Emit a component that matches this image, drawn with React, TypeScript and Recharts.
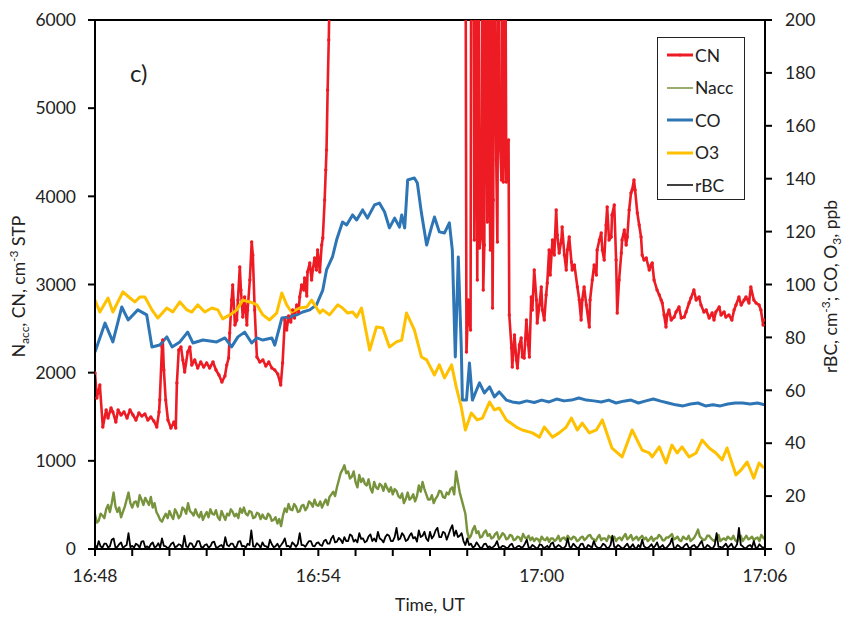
import React from 'react';
import { LineChart, Line, XAxis, YAxis, ReferenceLine } from 'recharts';

const FONT = "Lato, 'Open Sans', sans-serif";
const TEXT = '#222';

// X axis: minutes after 16:48 UT
const xTickMinutes = [0, 1, 2, 3, 4, 5, 6, 7, 8, 9, 10, 11, 12, 13, 14, 15, 16, 17, 18];
const xTickLabels = ['16:48', '', '', '', '', '', '16:54', '', '', '', '', '', '17:00', '', '', '', '', '', '17:06'];
const leftTicks = [0, 1000, 2000, 3000, 4000, 5000, 6000];
const rightTicks = [0, 20, 40, 60, 80, 100, 120, 140, 160, 180, 200];

// CN, cm-3 STP (left axis): [minute, value]
const cnSeries: [number, number][] = [
  [0, 1996], [0.05, 1713], [0.13, 1860], [0.21, 1384], [0.3, 1577], [0.35, 1486], [0.43, 1599], [0.48, 1554],
  [0.56, 1440], [0.62, 1577], [0.7, 1520], [0.78, 1554], [0.86, 1486], [0.94, 1577], [1.02, 1520], [1.1, 1463],
  [1.18, 1542], [1.26, 1508], [1.34, 1531], [1.42, 1463], [1.5, 1497], [1.58, 1452], [1.66, 1384], [1.72, 1554],
  [1.74, 1690], [1.8, 2291], [1.82, 2370], [1.85, 2030], [1.9, 1690], [1.96, 1463], [2.04, 1372], [2.12, 1440],
  [2.17, 1372], [2.2, 1883], [2.25, 2257], [2.31, 2291], [2.36, 2144], [2.41, 2008], [2.49, 2234], [2.55, 2291],
  [2.6, 2087], [2.68, 2144], [2.76, 2053], [2.84, 2121], [2.92, 2064], [3.0, 2110], [3.08, 2053], [3.17, 2121],
  [3.25, 2030], [3.33, 1974], [3.41, 1894], [3.49, 1962], [3.54, 2087], [3.59, 2166], [3.62, 2450], [3.67, 2824],
  [3.7, 2994], [3.76, 2541], [3.81, 2597], [3.84, 2824], [3.89, 3198], [3.92, 2938], [3.97, 2631], [4.02, 2858],
  [4.08, 2541], [4.1, 2711], [4.16, 3051], [4.21, 3482], [4.24, 3335], [4.29, 2711], [4.35, 2178], [4.43, 2121],
  [4.51, 2144], [4.59, 2076], [4.67, 2121], [4.75, 2053], [4.83, 2030], [4.91, 1985], [4.99, 1860], [5.04, 2110],
  [5.1, 2597], [5.15, 2484], [5.2, 2643], [5.26, 2575], [5.31, 2711], [5.36, 2620], [5.42, 2767], [5.47, 2688],
  [5.5, 2858], [5.55, 2994], [5.61, 2938], [5.63, 3074], [5.69, 2870], [5.71, 3142], [5.77, 3244], [5.82, 3051],
  [5.85, 3164], [5.9, 3300], [5.95, 3164], [5.98, 3391], [6.04, 3142], [6.09, 3448], [6.12, 3527], [6.17, 3958],
  [6.2, 4299], [6.22, 4525], [6.25, 5206], [6.28, 5773], [6.3, 6227], [6.35, 8000], [9.9, 8000],
  [9.95, 8000], [9.98, 2234], [10.03, 2824], [10.06, 2597], [10.09, 2484], [10.11, 8000], [10.17, 8000],
  [10.19, 3505], [10.22, 8000], [10.27, 3051], [10.3, 7000], [10.33, 3414], [10.38, 3595], [10.41, 7500],
  [10.43, 2938], [10.46, 3448], [10.49, 8000], [10.54, 3709], [10.57, 7000], [10.6, 4185], [10.62, 3391],
  [10.65, 6500], [10.68, 2733], [10.7, 3958], [10.73, 8000], [10.78, 4412], [10.81, 3482], [10.84, 7000],
  [10.86, 4730], [10.89, 4525], [10.92, 4185], [10.94, 8000], [10.97, 4163], [11.0, 4752], [11.02, 7500],
  [11.05, 4163], [11.08, 4435], [11.11, 4639], [11.13, 2654], [11.19, 2280],
  [11.21, 2064], [11.27, 2427], [11.32, 2144], [11.35, 2053], [11.4, 2314], [11.45, 2393], [11.48, 2178],
  [11.53, 2166], [11.59, 2597], [11.64, 2314], [11.67, 2178], [11.72, 2858], [11.75, 2711], [11.8, 3164],
  [11.86, 2824], [11.88, 2563], [11.94, 2767], [11.99, 2972], [12.02, 2711], [12.07, 2597], [12.12, 2881],
  [12.15, 3017], [12.2, 3391], [12.23, 3108], [12.29, 3505], [12.34, 3335], [12.39, 3845], [12.42, 3561],
  [12.47, 3357], [12.53, 3505], [12.55, 3652], [12.61, 3335], [12.66, 3164], [12.69, 3391], [12.74, 3539],
  [12.8, 3255], [12.82, 3164], [12.88, 3221], [12.96, 2972], [13.01, 2824], [13.06, 2597], [13.09, 2824],
  [13.14, 2972], [13.2, 2767], [13.28, 2518], [13.3, 2824], [13.36, 3051], [13.41, 3221], [13.47, 3108],
  [13.49, 3391], [13.55, 3505], [13.6, 3584], [13.63, 3391], [13.68, 3278], [13.73, 3675], [13.76, 3879],
  [13.81, 3505], [13.87, 3539], [13.89, 3788], [13.95, 3902], [14.0, 3278], [14.03, 2677], [14.08, 3051],
  [14.14, 3357], [14.16, 3505], [14.22, 3618], [14.27, 3448], [14.3, 3539], [14.35, 3845], [14.4, 4038],
  [14.43, 4072], [14.48, 4185], [14.51, 4072], [14.57, 3811], [14.62, 3675], [14.67, 3539], [14.7, 3335],
  [14.75, 3278], [14.81, 3300], [14.89, 3164], [14.94, 3221], [14.97, 3244], [15.02, 3051], [15.1, 2938],
  [15.16, 2881], [15.21, 2824], [15.24, 2790], [15.29, 2654], [15.34, 2518], [15.37, 2654], [15.42, 2711],
  [15.48, 2597], [15.56, 2631], [15.61, 2688], [15.69, 2745], [15.75, 2620], [15.83, 2631], [15.88, 2688],
  [15.96, 2790], [16.01, 2847], [16.09, 2938], [16.15, 2824], [16.23, 2858], [16.28, 2767], [16.36, 2688],
  [16.42, 2711], [16.5, 2620], [16.58, 2677], [16.63, 2597], [16.68, 2688], [16.77, 2745], [16.82, 2654],
  [16.9, 2688], [16.95, 2631], [17.03, 2654], [17.11, 2597], [17.17, 2711], [17.22, 2767], [17.3, 2858],
  [17.36, 2767], [17.44, 2824], [17.49, 2858], [17.57, 2790], [17.62, 2972], [17.7, 2824], [17.76, 2790],
  [17.84, 2767], [17.89, 2711], [17.95, 2541], [17.97, 2597],
];

// CO, ppb (right axis): [minute, value]
const coSeries: [number, number][] = [
  [0, 74.5], [0.27, 85.4], [0.48, 78.3], [0.72, 91.5], [0.89, 86.6], [1.15, 90.4], [1.39, 88.5], [1.53, 76.4],
  [1.74, 77.1], [1.93, 80.2], [2.07, 76.4], [2.28, 78.3], [2.49, 82.0], [2.63, 77.9], [2.9, 79.0], [3.27, 78.3],
  [3.49, 79.8], [3.67, 76.4], [3.84, 80.2], [4.02, 82.0], [4.21, 77.9], [4.35, 79.8], [4.51, 79.0], [4.75, 79.8],
  [4.83, 77.1], [5.02, 87.3], [5.23, 87.7], [5.42, 88.5], [5.58, 89.6], [5.77, 90.4], [5.95, 92.3], [6.12, 97.9],
  [6.22, 105.5], [6.38, 110.4], [6.49, 116.8], [6.65, 123.6], [6.76, 122.5], [6.92, 126.3], [7.03, 124.4],
  [7.19, 128.2], [7.32, 125.1], [7.51, 130.1], [7.64, 130.8], [7.78, 127.4], [7.91, 121.4], [8.05, 125.1],
  [8.18, 121.7], [8.24, 126.3], [8.32, 121.4], [8.4, 139.5], [8.58, 140.3], [8.66, 138.4], [8.77, 127.0],
  [8.91, 114.9], [9.04, 121.7], [9.12, 125.5], [9.25, 119.9], [9.39, 119.5], [9.52, 123.3], [9.6, 113.0],
  [9.68, 72.6], [9.76, 110.4], [9.84, 76.4], [9.87, 56.3], [9.98, 56.3], [10.06, 70.3], [10.14, 56.3],
  [10.25, 60.1], [10.33, 62.8], [10.46, 59.0], [10.6, 61.3], [10.73, 57.5], [10.86, 59.4], [11.05, 56.3],
  [11.21, 55.6], [11.4, 55.2], [11.6, 56.0], [11.8, 55.4], [12.0, 56.3], [12.2, 55.6], [12.4, 56.7],
  [12.6, 56.0], [12.8, 56.3], [13.0, 57.1], [13.2, 56.3], [13.4, 56.0], [13.6, 55.6], [13.8, 56.3],
  [14.0, 55.2], [14.2, 55.9], [14.4, 56.3], [14.6, 55.2], [14.8, 56.0], [15.0, 56.7], [15.2, 55.9],
  [15.4, 55.2], [15.6, 54.5], [15.8, 54.1], [16.0, 54.8], [16.2, 55.2], [16.4, 54.1], [16.6, 54.5],
  [16.8, 54.1], [17.0, 54.8], [17.2, 55.2], [17.4, 55.2], [17.6, 54.8], [17.8, 55.2], [18, 54.5],
];

// O3, ppb (right axis): [minute, value]
const o3Series: [number, number][] = [
  [0, 94.1], [0.13, 89.6], [0.35, 94.9], [0.48, 89.6], [0.75, 97.2], [0.94, 94.9], [1.07, 93.4], [1.21, 95.3],
  [1.34, 95.3], [1.53, 90.4], [1.69, 87.3], [1.93, 91.1], [2.09, 89.6], [2.28, 93.4], [2.47, 90.4], [2.6, 89.6],
  [2.76, 92.3], [2.95, 89.6], [3.14, 91.1], [3.3, 90.4], [3.43, 87.0], [3.62, 88.5], [3.81, 90.4], [3.97, 94.1],
  [4.16, 93.4], [4.35, 92.3], [4.51, 88.5], [4.69, 86.6], [4.88, 89.2], [5.02, 96.8], [5.15, 92.3], [5.28, 89.6],
  [5.5, 91.1], [5.69, 91.5], [5.82, 94.1], [6.04, 89.2], [6.12, 90.4], [6.3, 88.5], [6.52, 92.3], [6.65, 91.1],
  [6.79, 89.2], [6.92, 89.6], [7.03, 87.7], [7.16, 91.1], [7.38, 75.2], [7.56, 83.9], [7.73, 83.6], [7.91, 76.4],
  [8.1, 78.3], [8.24, 79.0], [8.37, 89.2], [8.58, 82.8], [8.77, 72.6], [8.91, 71.5], [9.12, 65.8], [9.25, 69.6],
  [9.39, 64.7], [9.58, 69.6], [9.71, 60.9], [9.84, 53.7], [9.95, 45.0], [10.11, 51.4], [10.27, 48.8],
  [10.41, 49.5], [10.6, 55.6], [10.73, 52.6], [10.86, 53.3], [11.05, 48.8], [11.32, 46.1], [11.48, 45.0],
  [11.75, 43.9], [11.94, 42.3], [12.07, 46.1], [12.29, 42.3], [12.47, 43.9], [12.66, 46.1], [12.8, 49.5],
  [12.96, 45.0], [13.09, 47.6], [13.28, 43.9], [13.47, 45.0], [13.63, 48.8], [13.89, 38.1], [14.16, 34.8],
  [14.43, 45.0], [14.7, 37.4], [14.89, 36.3], [14.97, 34.8], [15.16, 38.6], [15.34, 32.5], [15.5, 39.3],
  [15.64, 36.3], [15.77, 38.6], [15.96, 34.8], [16.15, 36.3], [16.31, 41.2], [16.5, 38.2], [16.68, 36.3],
  [16.85, 33.7], [16.98, 38.2], [17.22, 28.0], [17.36, 29.9], [17.52, 32.9], [17.7, 26.8], [17.84, 32.5],
  [17.97, 30.6],
];

// Nacc (left axis) and rBC (right axis): one value every 0.05 minute from 16:48 (one row = 1 minute)
const SAMPLE_STEP_MIN = 0.05;
const naccValues = [
  390, 300, 320, 400, 380, 350, 450, 500, 420, 520, 640, 480, 420, 470, 360, 420, 480, 560, 640, 520,
  470, 530, 540, 480, 610, 560, 500, 580, 540, 500, 590, 470, 520, 420, 380, 330, 310, 360, 400, 350,
  430, 380, 340, 450, 410, 350, 380, 470, 450, 400, 520, 430, 410, 380, 450, 390, 360, 420, 330, 380,
  420, 360, 450, 400, 390, 440, 360, 330, 430, 380, 330, 400, 380, 450, 420, 370, 400, 350, 460, 410,
  470, 400, 380, 430, 420, 350, 360, 410, 400, 340, 390, 350, 340, 400, 380, 320, 330, 360, 290, 340,
  260, 380, 460, 420, 510, 450, 440, 510, 480, 420, 430, 490, 500, 440, 470, 540, 520, 480, 560, 500,
  490, 540, 470, 520, 560, 500, 590, 620, 650, 600, 700, 780, 860, 900, 950, 860, 880, 800, 820, 880,
  760, 700, 840, 760, 800, 740, 720, 790, 690, 640, 760, 700, 680, 740, 720, 660, 740, 690, 650, 700,
  620, 680, 660, 600, 580, 630, 520, 570, 640, 560, 580, 620, 540, 600, 720, 650, 760, 680, 620, 560,
  560, 610, 520, 570, 600, 660, 650, 590, 580, 640, 620, 680, 700, 620, 880, 760, 640, 560, 480, 400,
  200, 120, 150, 220, 260, 180, 200, 130, 140, 190, 210, 150, 170, 120, 130, 170, 190, 110, 140, 180,
  160, 110, 120, 160, 150, 100, 110, 140, 130, 90, 170, 130, 120, 150, 100, 130, 90, 120, 110, 80,
  140, 110, 100, 130, 80, 120, 120, 90, 110, 150, 90, 120, 130, 100, 150, 120, 110, 140, 130, 90,
  100, 130, 140, 100, 120, 150, 160, 120, 110, 90, 130, 160, 100, 120, 120, 90, 150, 130, 110, 140,
  90, 120, 130, 100, 140, 170, 110, 130, 160, 100, 120, 140, 100, 130, 150, 110, 130, 90, 110, 140,
  90, 120, 120, 160, 140, 100, 100, 130, 130, 150, 170, 110, 120, 140, 100, 90, 140, 120, 110, 150,
  90, 110, 130, 170, 220, 140, 120, 100, 110, 150, 150, 120, 100, 90, 130, 160, 90, 110, 120, 100,
  140, 120, 110, 150, 100, 80, 130, 150, 90, 120, 150, 110, 120, 140, 100, 120, 130, 90, 160, 130,
  110,
];
const rbcValues = [
  1.5, 0.4, 3, 1, 0.5, 2, 2, 0.6, 1, 3.5, 4, 0.5, 0.8, 1.8, 2.5, 0.4, 1, 1.5, 6, 0.7,
  1.2, 0.5, 2, 1.5, 0.5, 2.8, 3, 0.6, 1, 0.4, 1.8, 2.5, 0.6, 1, 2.2, 0.5, 4, 1.2, 1, 0.3,
  0.8, 2, 2.5, 0.6, 1, 1.8, 1.5, 0.4, 5, 1, 0.7, 2.2, 2, 0.5, 1.2, 3, 3, 0.8, 0.5, 1.5,
  1.8, 0.5, 1, 2.5, 2.8, 0.7, 0.6, 1.2, 1.5, 0.4, 4.5, 1.5, 1, 2, 2, 0.6, 0.8, 2.8, 3, 1,
  1.2, 0.5, 2, 1.5, 7, 1, 0.8, 2.2, 1.5, 0.5, 2.5, 1.2, 1, 0.4, 3.5, 1.8, 0.7, 1, 2, 0.6,
  1.5, 2.5, 4, 1, 1.2, 0.5, 2.5, 1.8, 0.8, 2, 6, 1.5, 1.5, 0.8, 2, 3, 3, 1.2, 1, 2.2,
  2.5, 1.5, 1.2, 3, 3.5, 2, 2, 4, 5, 2.5, 2.8, 4.2, 3.5, 2.2, 4.5, 3, 3, 5.5, 5, 2.8,
  3.5, 2.5, 6, 3.8, 4, 2.5, 3, 4.8, 5.5, 3, 4, 2.8, 6.5, 4, 3.5, 2.5, 4.5, 5.5, 5, 3,
  3, 4.5, 8, 3.5, 4, 6, 5, 3, 3.5, 5, 6, 4, 4.5, 2.8, 7, 4.5, 5, 6.5, 4, 3,
  6.5, 4, 5, 7, 8, 4.5, 4.5, 6.5, 6, 3.5, 5.5, 7.5, 9, 5, 7, 4.5, 5, 6, 3, 1.5,
  4, 1.5, 2, 0.5, 1, 2.5, 1.5, 0.4, 0.5, 1.8, 2, 0.6, 1, 0.3, 0.8, 1.5, 3, 0.6, 0.5, 1.2,
  1, 0.3, 0.5, 1.5, 2, 0.4, 0.3, 1, 1.2, 0.5, 0.8, 2, 3.5, 0.6, 0.5, 1.5, 1, 0.3, 0.4, 1.8,
  1.5, 0.4, 0.6, 1.2, 0.3, 2, 2.5, 0.5, 0.8, 1.5, 1, 0.3, 0.4, 1.2, 4, 0.8, 0.6, 2, 1.2, 0.4,
  0.5, 1.8, 2, 0.4, 0.3, 1.5, 1, 0.5, 3, 1.2, 0.5, 0.3, 0.8, 2, 1.5, 0.4, 0.4, 1.5, 5, 0.8,
  0.6, 1.5, 1, 0.3, 0.3, 1.2, 2, 0.5, 0.8, 1.8, 0.4, 0.3, 1.5, 0.6, 3.5, 1, 0.5, 0.4, 1, 1.8,
  0.4, 1.2, 2.5, 0.5, 0.8, 1.5, 0.3, 0.4, 1.2, 2, 4, 0.6, 0.5, 1.5, 1, 0.3, 0.6, 1.5, 2, 0.5,
  0.4, 1.2, 1.5, 0.5, 0.8, 2, 3, 0.6, 0.5, 1.5, 1, 0.3, 0.3, 1.5, 6, 0.8, 0.8, 0.4, 1.2, 2,
  0.5, 1.2, 2, 0.4, 0.6, 1.8, 8, 1.5, 1, 0.3, 0.4, 1.2, 1.5, 0.6, 3, 0.5, 0.5, 1.8, 1, 0.4,
  0.8,
];

const legendItems = [
  { name: 'CN', color: '#ED1C24', width: 3, marker: true },
  { name: 'Nacc', color: '#77933C', width: 1.5, marker: false },
  { name: 'CO', color: '#2E75B6', width: 3, marker: false },
  { name: 'O3', color: '#FFC000', width: 3, marker: false },
  { name: 'rBC', color: '#000000', width: 1.5, marker: false },
];

const toPoints = (pairs: [number, number][]) => pairs.map(([t, v]) => ({ t, v }));
const fromSamples = (vals: number[]) =>
  vals.map((v, i) => ({ t: Math.round(i * SAMPLE_STEP_MIN * 1000) / 1000, v }));

const cnData = toPoints(cnSeries);
const coData = toPoints(coSeries);
const o3Data = toPoints(o3Series);
const naccData = fromSamples(naccValues);
const rbcData = fromSamples(rbcValues);

const FS = 17.5;

const LeftTitle = (props: any) => {
  const vb = props.viewBox || { x: 0, y: 20, width: 95, height: 529 };
  const cx = 25;
  const cy = vb.y + vb.height / 2 + 2;
  return (
    <text x={cx} y={cy} transform={`rotate(-90, ${cx}, ${cy})`} textAnchor="middle" fill={TEXT} fontSize={FS} fontFamily={FONT}>
      N<tspan fontSize={12} dy={4}>acc</tspan><tspan dy={-4}>, CN, cm</tspan>
      <tspan fontSize={12} dy={-7}>-3</tspan><tspan dy={7}> STP</tspan>
    </text>
  );
};

const RightTitle = (props: any) => {
  const vb = props.viewBox || { x: 765, y: 20, width: 78, height: 529 };
  const cx = 837;
  const cy = vb.y + vb.height / 2 + 2;
  return (
    <text x={cx} y={cy} transform={`rotate(-90, ${cx}, ${cy})`} textAnchor="middle" fill={TEXT} fontSize={FS} fontFamily={FONT}>
      rBC, cm<tspan fontSize={12} dy={-7}>-3</tspan><tspan dy={7}>; CO, O</tspan>
      <tspan fontSize={12} dy={4}>3</tspan><tspan dy={-4}>, ppb</tspan>
    </text>
  );
};

const XTitle = (props: any) => {
  const vb = props.viewBox || { x: 95, y: 549, width: 670, height: 68 };
  return (
    <text x={vb.x + vb.width / 2} y={611} textAnchor="middle" fill={TEXT} fontSize={FS} fontFamily={FONT}>
      Time, UT
    </text>
  );
};

const axisStroke = { stroke: '#000', strokeWidth: 2 };
const tickStyle = { fill: TEXT, fontSize: FS, fontFamily: FONT };

export default function App() {
  return (
    <div style={{ position: 'absolute', left: 0, top: 0, width: 843, height: 617, background: '#fff', fontFamily: FONT }}>
      <LineChart width={843} height={617} margin={{ top: 20, right: 0, bottom: 0, left: 0 }}>
        <XAxis
          dataKey="t"
          type="number"
          domain={[0, 18]}
          ticks={xTickMinutes}
          interval={0}
          allowDataOverflow
          tickFormatter={(v: number) => xTickLabels[xTickMinutes.indexOf(v)] ?? ''}
          height={68}
          tickSize={7}
          tickMargin={14}
          axisLine={axisStroke}
          tickLine={axisStroke}
          tick={tickStyle}
          label={<XTitle />}
        />
        <YAxis
          yAxisId="left"
          domain={[0, 6000]}
          ticks={leftTicks}
          allowDataOverflow
          width={95}
          tickSize={7}
          tickMargin={12}
          axisLine={axisStroke}
          tickLine={axisStroke}
          tick={tickStyle}
          label={<LeftTitle />}
        />
        <YAxis
          yAxisId="right"
          orientation="right"
          domain={[0, 200]}
          ticks={rightTicks}
          allowDataOverflow
          width={78}
          tickSize={7}
          tickMargin={13}
          axisLine={axisStroke}
          tickLine={axisStroke}
          tick={tickStyle}
          label={<RightTitle />}
        />
        <ReferenceLine yAxisId="left" y={6000} stroke="#000" strokeWidth={2} />
        <Line
          yAxisId="left"
          data={cnData}
          dataKey="v"
          type="linear"
          stroke="#ED1C24"
          strokeWidth={2.6}
          strokeLinejoin="round"
          dot={{ r: 1.7, fill: '#ED1C24', stroke: 'none' }}
          activeDot={false}
          isAnimationActive={false}
        />
        <Line
          yAxisId="left"
          data={naccData}
          dataKey="v"
          type="linear"
          stroke="#77933C"
          strokeWidth={2.4}
          strokeLinejoin="round"
          dot={false}
          activeDot={false}
          isAnimationActive={false}
        />
        <Line
          yAxisId="right"
          data={coData}
          dataKey="v"
          type="linear"
          stroke="#2E75B6"
          strokeWidth={3}
          strokeLinejoin="round"
          dot={false}
          activeDot={false}
          isAnimationActive={false}
        />
        <Line
          yAxisId="right"
          data={o3Data}
          dataKey="v"
          type="linear"
          stroke="#FFC000"
          strokeWidth={3}
          strokeLinejoin="round"
          dot={false}
          activeDot={false}
          isAnimationActive={false}
        />
        <Line
          yAxisId="right"
          data={rbcData}
          dataKey="v"
          type="linear"
          stroke="#000"
          strokeWidth={1.8}
          strokeLinejoin="round"
          dot={false}
          activeDot={false}
          isAnimationActive={false}
        />
      </LineChart>

      <div
        style={{
          position: 'absolute', left: 130, top: 60, fontSize: 24, lineHeight: '26px',
          color: TEXT, fontFamily: FONT,
        }}
      >
        c)
      </div>

      <div
        style={{
          position: 'absolute', left: 657, top: 37, width: 86, height: 161,
          border: '1px solid #222', background: '#fff', boxSizing: 'content-box',
        }}
      >
        {legendItems.map((it, i) => (
          <div
            key={it.name}
            style={{
              position: 'absolute', left: 9, top: 5 + i * 32.5, height: 24,
              display: 'flex', alignItems: 'center', fontSize: FS, color: TEXT, fontFamily: FONT,
            }}
          >
            <svg width={26} height={10} style={{ marginRight: 2 }}>
              <line x1={0} y1={5} x2={26} y2={5} stroke={it.color} strokeWidth={it.width} />
              {it.marker ? <circle cx={13} cy={5} r={1.5} fill={it.color} /> : null}
            </svg>
            <span>{it.name}</span>
          </div>
        ))}
      </div>
    </div>
  );
}
